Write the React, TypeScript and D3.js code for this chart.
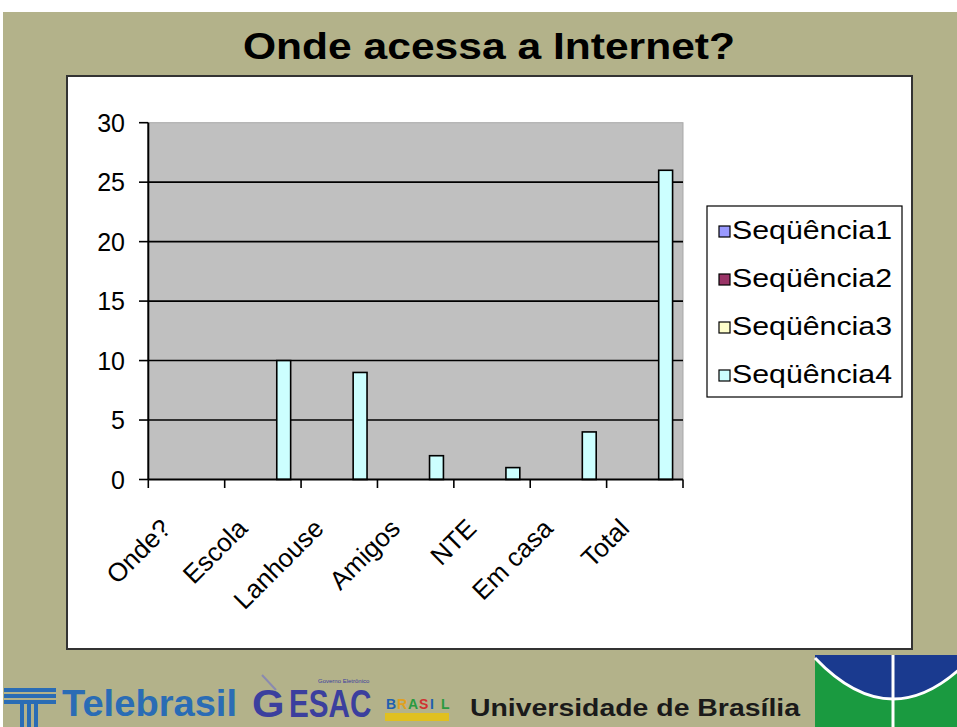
import React from "react";
import * as d3 from "d3";

const categories = ["Onde?", "Escola", "Lanhouse", "Amigos", "NTE", "Em casa", "Total"];
const seriesNames = ["Seqüência1", "Seqüência2", "Seqüência3", "Seqüência4"];
const seq1 = [0, 0, 0, 0, 0, 0, 0];
const seq2 = [0, 0, 0, 0, 0, 0, 0];
const seq3 = [0, 0, 0, 0, 0, 0, 0];
const seq4 = [0, 10, 9, 2, 1, 4, 26];
const seriesColors = ["#9999ff", "#993366", "#ffffcc", "#ccffff"];
const yTicks = [0, 5, 10, 15, 20, 25, 30];
const titleText = "Onde acessa a Internet?";
const brasilLetters = ["B", "R", "A", "S", "I", "L"];
const brasilColors = ["#1e5fb0", "#e0a020", "#2a9a40", "#d03030", "#1e5fb0", "#2a9a40"];

const W = 957;
const H = 727;
const PX0 = 148.3, PX1 = 683, PY0 = 479.5, PY1 = 122.7;
const FONT = "Arial, 'Liberation Sans', sans-serif";

export default function App() {
  const seriesValues = [seq1, seq2, seq3, seq4];
  const x = d3.scaleBand<string>().domain(categories).range([PX0, PX1]).paddingInner(0).paddingOuter(0);
  const xs = d3.scaleBand<string>().domain(seriesNames).range([0, x.bandwidth()]).paddingInner(0).paddingOuter(0.75);
  const y = d3.scaleLinear().domain([0, 30]).range([PY0, PY1]);
  const bounds = categories.map((c) => x(c) as number).concat([PX1]);

  return (
    <svg width={W} height={H} style={{ position: "absolute", left: 0, top: 0 }} xmlns="http://www.w3.org/2000/svg">
      <rect x={0} y={0} width={W} height={H} fill="#ffffff" />
      <rect x={3} y={12} width={W - 3} height={H - 12} fill="#b3b28a" />
      <text x={489} y={59} fontFamily={FONT} fontWeight="bold" fontSize={37.5} textAnchor="middle"
        textLength={492} lengthAdjust="spacingAndGlyphs" fill="#000">{titleText}</text>

      {/* chart box */}
      <rect x={67} y={76} width={845} height={573} fill="#ffffff" stroke="#333" strokeWidth={2} />

      {/* plot area */}
      <rect x={PX0} y={PY1} width={PX1 - PX0} height={PY0 - PY1} fill="#c0c0c0" stroke="#a9a9a9" strokeWidth={1} />
      {yTicks.filter((t) => t > 0 && t < 30).map((t) => (
        <line key={"g" + t} x1={PX0} x2={PX1} y1={y(t)} y2={y(t)} stroke="#000" strokeWidth={1.6} />
      ))}

      {/* bars */}
      {seriesValues.map((vals, si) =>
        vals.map((v, ci) =>
          v > 0 ? (
            <rect key={si + "-" + ci}
              x={(x(categories[ci]) as number) + (xs(seriesNames[si]) as number)}
              y={y(v)} width={xs.bandwidth()} height={y(0) - y(v)}
              fill={seriesColors[si]} stroke="#000" strokeWidth={1.6} />
          ) : null
        )
      )}

      {/* axes */}
      <line x1={PX0} x2={PX0} y1={PY1} y2={PY0} stroke="#000" strokeWidth={2} />
      <line x1={PX0} x2={PX1} y1={PY0} y2={PY0} stroke="#000" strokeWidth={2} />
      {yTicks.map((t) => (
        <g key={"yt" + t}>
          <line x1={139} x2={PX0} y1={y(t)} y2={y(t)} stroke="#000" strokeWidth={1.6} />
          <text x={125} y={y(t)} dy="0.36em" textAnchor="end" fontFamily={FONT} fontSize={25} fill="#000">{t}</text>
        </g>
      ))}
      {bounds.map((b, i) => (
        <line key={"xt" + i} x1={b} x2={b} y1={PY0} y2={488} stroke="#000" strokeWidth={1.6} />
      ))}
      {categories.map((c) => {
        const cx = (x(c) as number) + x.bandwidth() / 2 - 14;
        const cy = 530;
        return (
          <text key={"xl" + c} x={cx} y={cy} transform={`rotate(-45 ${cx} ${cy})`} textAnchor="end"
            fontFamily={FONT} fontSize={26} fill="#000">{c}</text>
        );
      })}

      {/* legend */}
      <rect x={707} y={206} width={195} height={191} fill="#ffffff" stroke="#000" strokeWidth={1.2} />
      {seriesNames.map((s, i) => {
        const cy = 230 + 48 * i;
        return (
          <g key={"lg" + s}>
            <rect x={719} y={cy - 4} width={11} height={11} fill={seriesColors[i]} stroke="#000" strokeWidth={1.2} />
            <text x={732} y={cy + 9.3} fontFamily={FONT} fontSize={26} textLength={160}
              lengthAdjust="spacingAndGlyphs" fill="#000">{s}</text>
          </g>
        );
      })}

      {/* bottom logos */}
      <g fill="#2a6cb5">
        <rect x={4} y={688} width={52} height={4} />
        <rect x={4} y={694} width={52} height={4} />
        <rect x={4} y={700} width={52} height={4} />
        <rect x={20} y={704} width={4} height={23} />
        <rect x={27} y={704} width={4} height={23} />
        <rect x={34} y={704} width={4} height={23} />
      </g>
      <text x={62} y={716} fontFamily={FONT} fontWeight="bold" fontSize={36} fill="#2a6cb5"
        textLength={175} lengthAdjust="spacingAndGlyphs">Telebrasil</text>
      <path d="M262,675 L276,690" stroke="#8a8ab0" strokeWidth={2} />
      <text transform="translate(252,717) scale(1.1,1)" fontFamily={FONT} fontWeight="bold" fontSize={38}
        fill="#3b3f9e">G</text>
      <text transform="translate(289,717) scale(0.78,1)" fontFamily={FONT} fontWeight="bold" fontSize={38}
        fill="#3b3f9e">ESAC</text>
      <text x={318} y={683} fontFamily={FONT} fontSize={6} fill="#3b3f9e">Governo Eletrônico</text>
      {brasilLetters.map((l, i) => (
        <text key={"br" + i} x={386 + i * 11} y={709} fontFamily={FONT} fontWeight="bold" fontSize={14}
          fill={brasilColors[i]}>{l}</text>
      ))}
      <rect x={385} y={713} width={64} height={8} fill="#e0c020" />
      <text x={470} y={716} fontFamily={FONT} fontWeight="bold" fontSize={23} fill="#1a1a1a"
        textLength={330} lengthAdjust="spacingAndGlyphs">Universidade de Brasília</text>
      <rect x={815} y={655} width={142} height={72} fill="#1a3a8f" />
      <path d="M815,658 Q893,740 971,658 L971,727 L815,727 Z" fill="#1a9a40" />
      <path d="M815,658 Q893,740 971,658" fill="none" stroke="#ffffff" strokeWidth={3} />
      <line x1={893} x2={893} y1={655} y2={727} stroke="#ffffff" strokeWidth={3} />
    </svg>
  );
}
